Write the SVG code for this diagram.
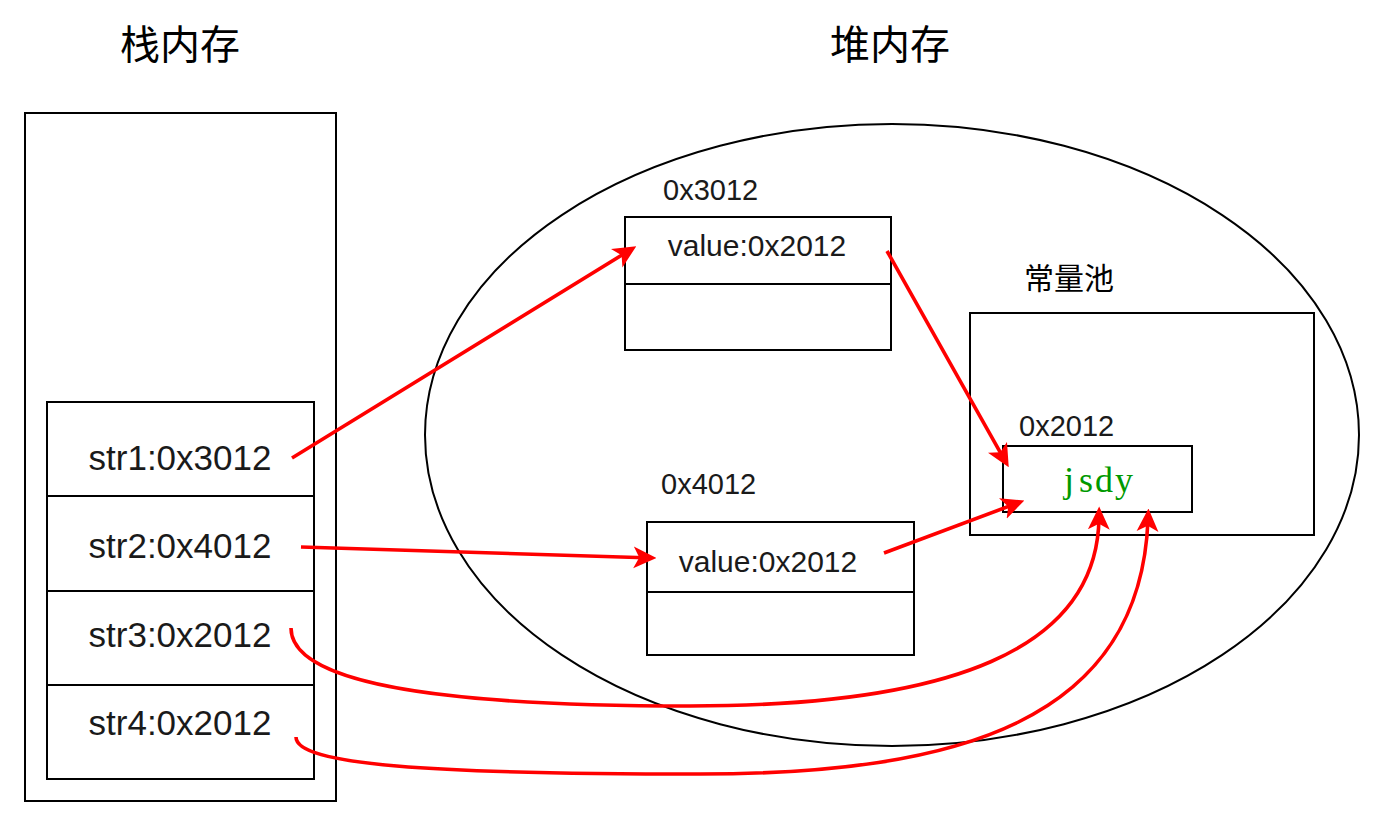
<svg xmlns="http://www.w3.org/2000/svg" width="1384" height="818" viewBox="0 0 1384 818">
<style>
.box{fill:#fff;stroke:#000;stroke-width:2}
.ln{fill:none;stroke:#000;stroke-width:2}
.t{font-family:"Liberation Sans",Arial,sans-serif;fill:#1a1a1a}
.cjk{font-family:"Noto Sans CJK SC","Liberation Sans",sans-serif;fill:#000}
.edge{fill:none;stroke:#ff0000;stroke-width:3.6}
</style>
<defs>
<marker id="arr" viewBox="0 0 20 20" refX="10" refY="10" markerWidth="23" markerHeight="23" markerUnits="userSpaceOnUse" orient="auto">
<path d="M0,0.5 L20,10 L0,19.5 L5,10 Z" fill="#ff0000"/>
</marker>
</defs>
<rect width="1384" height="818" fill="#fff"/>
<g id="title-stack"><text class="cjk" x="120" y="59" font-size="40">栈内存</text></g>
<g id="title-heap"><text class="cjk" x="830" y="59" font-size="40">堆内存</text></g>
<g id="stack">
<rect class="box" x="25" y="113" width="311" height="688"/>
</g>
<g id="heap">
<ellipse class="ln" cx="892" cy="435" rx="467" ry="311" stroke-width="1.8"/>
</g>
<g id="stack-vars">
<rect class="box" x="47" y="402" width="267" height="377"/>
<line class="ln" x1="47" y1="496" x2="314" y2="496"/>
<line class="ln" x1="47" y1="591" x2="314" y2="591"/>
<line class="ln" x1="47" y1="685" x2="314" y2="685"/>
<text class="t" x="180" y="470" font-size="35" text-anchor="middle">str1:0x3012</text>
<text class="t" x="180" y="558" font-size="35" text-anchor="middle">str2:0x4012</text>
<text class="t" x="180" y="647" font-size="35" text-anchor="middle">str3:0x2012</text>
<text class="t" x="180" y="735" font-size="35" text-anchor="middle">str4:0x2012</text>
</g>
<g id="obj-3012">
<text class="t" x="663" y="200" font-size="29" fill="#000">0x3012</text>
<rect class="box" x="625" y="217" width="266" height="133"/>
<line class="ln" x1="625" y1="284" x2="891" y2="284"/>
<text class="t" x="757" y="256" font-size="30" text-anchor="middle" fill="#000">value:0x2012</text>
</g>
<g id="obj-4012">
<text class="t" x="661" y="494" font-size="29" fill="#000">0x4012</text>
<rect class="box" x="647" y="522" width="267" height="133"/>
<line class="ln" x1="647" y1="592" x2="914" y2="592"/>
<text class="t" x="768" y="572" font-size="30" text-anchor="middle" fill="#000">value:0x2012</text>
</g>
<g id="const-pool">
<text class="cjk" x="1024" y="289" font-size="30" fill="#222">常量池</text>
<rect class="box" x="970" y="313" width="344" height="222"/>
</g>
<g id="str-jsdy">
<text class="t" x="1019" y="436" font-size="29" fill="#000">0x2012</text>
<rect class="box" x="1003" y="446" width="189" height="66"/>
<text x="1064 1079 1095 1115" y="492" font-size="36" font-family="'Liberation Serif','Times New Roman',serif" fill="#009900">jsdy</text>
</g>
<g id="connectors">
<path class="edge" d="M292,458 L626.5,252.2" marker-end="url(#arr)"/>
<path class="edge" d="M301,547 L645,557.7" marker-end="url(#arr)"/>
<path class="edge" d="M887,251 L1003.1,457.3" marker-end="url(#arr)"/>
<path class="edge" d="M884,553 L1013.6,504.5" marker-end="url(#arr)"/>
<path class="edge" d="M291,628 C291,680 420,706 690,706 C950,706 1097,650 1099,518" marker-end="url(#arr)"/>
<path class="edge" d="M296,737 C296,765 430,774 700,774 C960,774 1140,720 1148,520" marker-end="url(#arr)"/>
</g>
</svg>
